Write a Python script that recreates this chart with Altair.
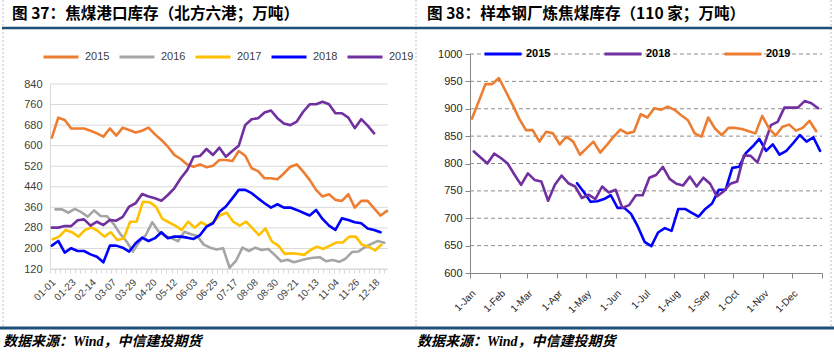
import json
import pandas as pd
import altair as alt

W, H = 834, 352

# ---------------- 图37 焦煤港口库存（北方六港；万吨） ----------------
left_years = ["2015", "2016", "2017", "2018", "2019"]
left_colors = ["#ED7D31", "#A5A5A5", "#FFC000", "#0000FF", "#7030A0"]
left_start_day = [2, 6, 3, 2, 2]  # day-of-year of first weekly reading

port_2015 = [631, 709, 700, 667, 667, 667, 658, 648, 635, 667, 639, 670, 661, 651, 658, 670, 644, 622,
             596, 564, 548, 527, 518, 527, 516, 522, 544, 544, 540, 579, 561, 512, 501, 473, 473, 469,
             492, 518, 527, 499, 467, 428, 402, 411, 389, 385, 411, 359, 385, 385, 356, 328, 346]
port_2016 = [352, 352, 339, 354, 341, 324, 348, 326, 325, 296, 258, 228, 188, 226, 252, 302, 266, 248,
             240, 228, 265, 255, 248, 215, 203, 196, 201, 125, 152, 203, 190, 203, 194, 198, 175, 150,
             156, 146, 153, 160, 164, 166, 150, 155, 148, 160, 186, 188, 205, 218, 229, 222]
port_2017 = [236, 246, 272, 263, 246, 272, 282, 268, 246, 263, 233, 239, 304, 304, 382, 380, 363, 315,
             302, 289, 272, 304, 281, 302, 289, 304, 330, 339, 304, 289, 304, 278, 252, 278, 227, 211,
             179, 181, 179, 175, 194, 207, 198, 211, 223, 223, 246, 246, 214, 207, 192, 214]
port_2018 = [211, 229, 184, 201, 190, 190, 177, 168, 146, 211, 211, 203, 188, 220, 242, 229, 240, 263,
             240, 246, 246, 242, 237, 252, 285, 298, 343, 363, 395, 428, 428, 415, 395, 376, 359, 372,
             359, 359, 350, 339, 328, 350, 315, 289, 272, 317, 311, 302, 298, 278, 272, 263]
port_2019 = [281, 281, 287, 287, 310, 313, 289, 304, 291, 311, 308, 323, 363, 376, 412, 402, 395, 386,
             408, 434, 473, 505, 557, 560, 587, 564, 592, 557, 579, 600, 680, 703, 707, 729, 737, 707,
             686, 680, 694, 732, 761, 761, 771, 761, 726, 726, 709, 668, 703, 678, 648]
left_series = [port_2015, port_2016, port_2017, port_2018, port_2019]

left_yticks = [120, 200, 280, 360, 440, 520, 600, 680, 760, 840]
left_xlabels = ["01-01", "01-23", "02-14", "03-07", "03-29", "04-20", "05-12", "06-03", "06-25",
                "07-17", "08-08", "08-30", "09-21", "10-13", "11-04", "11-26", "12-18"]
left_label_step = 22

# ---------------- 图38 样本钢厂炼焦煤库存（110家；万吨） ----------------
right_years = ["2015", "2018", "2019"]
right_colors = ["#0000FF", "#7030A0", "#ED7D31"]
right_start_day = [111, 4, 2]

mill_2015 = [764, 748, 730, 731, 735, 742, 719, 719, 708, 685, 657, 649, 674, 682, 677, 717, 717, 710,
             703, 717, 727, 752, 752, 792, 794, 819, 831, 845, 823, 835, 816, 823, 837, 852, 840, 848, 823]
mill_2018 = [822, 811, 800, 818, 810, 800, 780, 761, 782, 770, 767, 732, 761, 778, 764, 758, 737, 743,
             735, 758, 747, 752, 719, 724, 742, 742, 774, 779, 794, 772, 763, 760, 776, 758, 774, 763,
             740, 749, 763, 767, 815, 814, 802, 834, 870, 876, 902, 902, 902, 914, 910, 901]
mill_2019 = [882, 913, 945, 945, 956, 932, 908, 882, 861, 861, 840, 858, 855, 835, 849, 840, 816, 828,
             840, 820, 834, 849, 862, 855, 858, 890, 884, 901, 898, 904, 898, 888, 879, 855, 849, 884,
             864, 852, 865, 865, 863, 859, 855, 887, 864, 851, 867, 871, 860, 865, 878, 859]
right_series = [mill_2015, mill_2018, mill_2019]

right_yticks = [600, 650, 700, 750, 800, 850, 900, 950, 1000]
right_month_days = [0, 31, 59, 90, 120, 151, 181, 212, 243, 273, 304, 334, 365]
right_month_labels = ["1-Jan", "1-Feb", "1-Mar", "1-Apr", "1-May", "1-Jun", "1-Jul", "1-Aug",
                      "1-Sep", "1-Oct", "1-Nov", "1-Dec", ""]

title_left = "图 37：焦煤港口库存（北方六港；万吨）"
title_right = "图 38：样本钢厂炼焦煤库存（110 家；万吨）"
source_text = "数据来源：Wind，中信建投期货"


def build(years, starts, series):
    rows = []
    for k, (yr, st, vals) in enumerate(zip(years, starts, series)):
        for i, v in enumerate(vals):
            rows.append({"day": st + 7 * i, "value": v, "year": yr, "k": k})
    return pd.DataFrame(rows)


df_left = build(left_years, left_start_day, left_series)
df_right = build(right_years, right_start_day, right_series)

# ---- layout (pixels) ----
LX0, LX1, LY0, LY1 = 50, 387, 269, 84
RX0, RX1, RY0, RY1 = 470, 822, 273, 54

lx_scale = alt.Scale(domain=[0, 366], range=[LX0, LX1], nice=False, zero=False)
ly_scale = alt.Scale(domain=[120, 840], range=[LY0, LY1], nice=False, zero=False)
rx_scale = alt.Scale(domain=[0, 365], range=[RX0, RX1], nice=False, zero=False)
ry_scale = alt.Scale(domain=[600, 1000], range=[RY0, RY1], nice=False, zero=False)

minor_vals = [i * (left_label_step / 4) for i in range(int(366 // (left_label_step / 4)) + 1)]
left_label_expr = (f"datum.value % {left_label_step} == 0 ? "
                   f"{json.dumps(left_xlabels)}[round(datum.value / {left_label_step})] : ''")
right_label_expr = f"{json.dumps(right_month_labels)}[indexof({json.dumps(right_month_days)}, datum.value)]"

AXF = "Liberation Sans"
CJK = "Noto Sans CJK SC"
SRC_FONT = "'Liberation Serif', 'Noto Sans CJK SC'"

# left gridlines
left_grid = alt.Chart(pd.DataFrame({"v": left_yticks})).mark_rule(color="#D9D9D9", strokeWidth=1).encode(
    y=alt.Y("v:Q", scale=ly_scale, axis=None),
    x=alt.value(LX0), x2=alt.value(LX1 + 1),
)

left_lines = alt.Chart(df_left).mark_line(strokeWidth=2.6, strokeJoin="round", strokeCap="round").encode(
    x=alt.X("day:Q", scale=lx_scale, axis=alt.Axis(
        orient="bottom", offset=LY0 - H, values=minor_vals, labelExpr=left_label_expr,
        labelAngle=-45, labelAlign="right", labelBaseline="top", labelOverlap=False,
        labelFont=AXF, labelFontSize=10, labelColor="#404040", labelPadding=4,
        grid=False, domainColor="#D9D9D9", tickColor="#D9D9D9", tickSize=4, title=None)),
    y=alt.Y("value:Q", scale=ly_scale, axis=alt.Axis(
        orient="left", offset=-LX0, values=left_yticks, grid=False, ticks=False,
        domainColor="#D9D9D9", labelFont=AXF, labelFontSize=11, labelColor="#404040",
        labelPadding=8, format="d", title=None)),
    color=alt.Color("year:N", scale=alt.Scale(domain=left_years, range=left_colors), legend=alt.Legend(
        orient="none", legendX=42, legendY=38, direction="horizontal", columns=5, title=None,
        symbolType="stroke", symbolSize=1225, symbolStrokeWidth=3, labelFont=AXF, labelFontSize=11,
        labelColor="#404040", labelOffset=5, columnPadding=3, padding=0)),
    detail="k:O",
)

# right gridlines (dashed)
right_grid = alt.Chart(pd.DataFrame({"v": right_yticks[1:]})).mark_rule(
    color="#8C8C8C", strokeWidth=1, strokeDash=[4, 3]).encode(
    y=alt.Y("v:Q", scale=ry_scale, axis=None),
    x=alt.value(RX0), x2=alt.value(RX1),
)

right_lines = alt.Chart(df_right).mark_line(strokeWidth=2.6, strokeJoin="round", strokeCap="round").encode(
    x=alt.X("day:Q", scale=rx_scale, axis=alt.Axis(
        orient="bottom", offset=RY0 - H, values=right_month_days, labelExpr=right_label_expr,
        labelAngle=-45, labelAlign="right", labelBaseline="top", labelOverlap=False,
        labelFont=AXF, labelFontSize=10, labelColor="#262626", labelPadding=10,
        grid=False, domainColor="#868686", tickColor="#868686", tickSize=5, title=None)),
    y=alt.Y("value:Q", scale=ry_scale, axis=alt.Axis(
        orient="left", offset=-RX0, values=right_yticks, grid=False, ticks=True, tickSize=5,
        tickColor="#868686", domainColor="#868686", labelFont=AXF, labelFontSize=11,
        labelColor="#262626", labelPadding=3, format="d", title=None)),
    color=alt.Color("year:N", scale=alt.Scale(domain=right_years, range=right_colors), legend=alt.Legend(
        orient="none", legendX=483, legendY=34, direction="horizontal", columns=3, title=None,
        symbolType="stroke", symbolSize=1369, symbolStrokeWidth=3, labelFont=AXF, labelFontSize=11,
        labelFontWeight="bold", labelColor="#000000", labelOffset=3, columnPadding=47, padding=0)),
    detail="k:O",
)

one = pd.DataFrame({"a": [0]})


def text_layer(txt, x, y, size, font=CJK, weight="bold", style="normal"):
    return alt.Chart(one).mark_text(
        align="left", baseline="middle", font=font, fontSize=size, fontWeight=weight,
        fontStyle=style, color="#000000").encode(
        x=alt.value(x), y=alt.value(y), text=alt.value(txt))


def hrule(x1, x2, y, color, width, dash=None):
    kw = dict(color=color, strokeWidth=width)
    if dash:
        kw["strokeDash"] = dash
    return alt.Chart(one).mark_rule(**kw).encode(x=alt.value(x1), x2=alt.value(x2), y=alt.value(y))


def vrule(x, y1, y2, color, width, dash=None):
    kw = dict(color=color, strokeWidth=width)
    if dash:
        kw["strokeDash"] = dash
    return alt.Chart(one).mark_rule(**kw).encode(x=alt.value(x), y=alt.value(y1), y2=alt.value(y2))


deco = [
    vrule(3, 0, 327, "#BFBFBF", 1, [2, 2]),
    vrule(416, 0, 327, "#BFBFBF", 1, [2, 2]),
    vrule(831, 0, 327, "#BFBFBF", 1, [2, 2]),
    hrule(2, 832, 28, "#1F4E79", 2.5),
    hrule(0, 834, 328, "#1F4E79", 3),
    text_layer(title_left, 12, 14, 15.6),
    text_layer(title_right, 427, 14, 15.6),
    text_layer(source_text, 3, 342, 14, SRC_FONT, "bold", "italic"),
    text_layer(source_text, 417, 342, 14, SRC_FONT, "bold", "italic"),
]

chart = alt.layer(left_grid, right_grid, left_lines, right_lines, *deco).resolve_scale(
    x="independent", y="independent", color="independent"
).properties(
    width=W, height=H, padding=0, autosize=alt.AutoSizeParams(type="none"), background="white"
).configure_view(strokeWidth=0)

chart.save("out.html", embed_options={"renderer": "svg", "actions": False})
